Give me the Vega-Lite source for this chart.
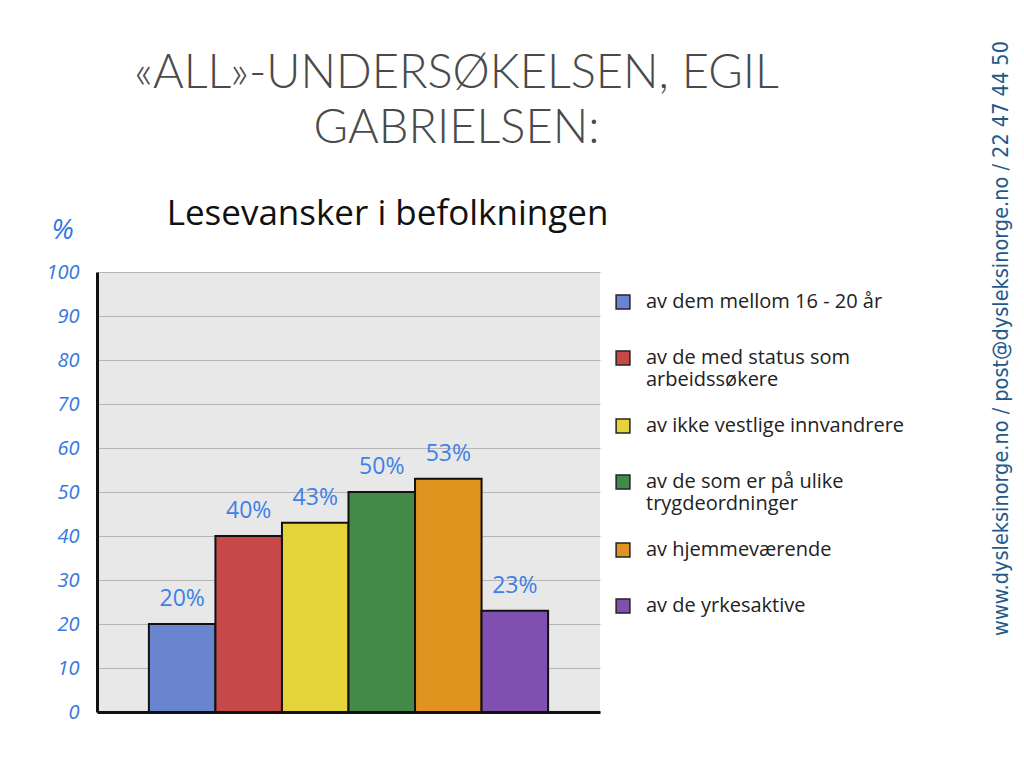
{
  "$schema": "https://vega.github.io/schema/vega-lite/v6.json",
  "width": 503,
  "height": 440,
  "autosize": {"type": "none"},
  "padding": {"left": 97, "top": 272, "right": 424, "bottom": 70},
  "background": "white",
  "title": {
    "text": ["«ALL»-UNDERSØKELSEN, EGIL", "GABRIELSEN:"],
    "anchor": "middle",
    "dx": 108,
    "dy": 112,
    "font": "Lato",
    "fontWeight": 300,
    "fontSize": 47,
    "color": "#4a4a4a",
    "lineHeight": 55,
    "offset": 0
  },
  "data": {
    "values": [
      {"gruppe": "av dem mellom 16 - 20 år", "prosent": 20, "etikett": "20%"},
      {"gruppe": "av de med status som\narbeidssøkere", "prosent": 40, "etikett": "40%"},
      {"gruppe": "av ikke vestlige innvandrere", "prosent": 43, "etikett": "43%"},
      {"gruppe": "av de som er på ulike\ntrygdeordninger", "prosent": 50, "etikett": "50%"},
      {"gruppe": "av hjemmeværende", "prosent": 53, "etikett": "53%"},
      {"gruppe": "av de yrkesaktive", "prosent": 23, "etikett": "23%"}
    ]
  },
  "layer": [
    {
      "mark": {"type": "bar", "stroke": "#111111", "strokeWidth": 2},
      "encoding": {
        "x": {
          "field": "gruppe",
          "type": "nominal",
          "sort": null,
          "scale": {"paddingInner": 0, "paddingOuter": 0.78},
          "axis": {
            "labels": false,
            "ticks": false,
            "grid": false,
            "domainColor": "#111111",
            "domainWidth": 3,
            "title": "Lesevansker i befolkningen",
            "titleX": 290,
            "titleY": -499,
            "titleAlign": "center",
            "titleBaseline": "middle",
            "titleFont": "Open Sans",
            "titleFontSize": 35,
            "titleFontWeight": "normal",
            "titleColor": "#111111"
          }
        },
        "y": {
          "field": "prosent",
          "type": "quantitative",
          "scale": {"domain": [0, 100]},
          "axis": {
            "tickCount": 10,
            "grid": true,
            "gridColor": "#B5B5B5",
            "gridWidth": 1,
            "ticks": false,
            "domainColor": "#111111",
            "domainWidth": 3,
            "labelColor": "#3577E0",
            "labelFontSize": 20,
            "labelFont": "Open Sans",
            "labelFontStyle": "italic",
            "labelPadding": 18,
            "title": "%",
            "titleAngle": 0,
            "titleX": -35,
            "titleY": -42,
            "titleAlign": "center",
            "titleBaseline": "middle",
            "titleColor": "#3577E0",
            "titleFont": "Open Sans",
            "titleFontSize": 28,
            "titleFontStyle": "italic",
            "titleFontWeight": "normal"
          }
        },
        "color": {
          "field": "gruppe",
          "type": "nominal",
          "sort": null,
          "scale": {
            "domain": [
              "av dem mellom 16 - 20 år",
              "av de med status som\narbeidssøkere",
              "av ikke vestlige innvandrere",
              "av de som er på ulike\ntrygdeordninger",
              "av hjemmeværende",
              "av de yrkesaktive"
            ],
            "range": ["#6A85CF", "#C64848", "#E4D43A", "#438A48", "#E0931E", "#8050B0"]
          },
          "legend": {
            "orient": "none",
            "legendX": 516,
            "legendY": 10,
            "title": null,
            "symbolType": "square",
            "symbolSize": 190,
            "symbolStrokeColor": "#222222",
            "symbolStrokeWidth": 1.5,
            "symbolOpacity": 1,
            "labelFontSize": 20,
            "labelFont": "Open Sans",
            "labelColor": "#222222",
            "labelExpr": "split(datum.label, '\\n')",
            "clipHeight": 40,
            "rowPadding": 16,
            "labelOffset": 13,
            "labelLimit": 320
          }
        }
      }
    },
    {
      "mark": {
        "type": "text",
        "baseline": "alphabetic",
        "dy": -18,
        "fontSize": 23,
        "font": "Open Sans",
        "color": "#3F80E6"
      },
      "encoding": {
        "x": {"field": "gruppe", "type": "nominal", "sort": null},
        "y": {
          "field": "prosent",
          "type": "quantitative",
          "axis": {
            "orient": "right",
            "labels": false,
            "ticks": false,
            "domain": false,
            "grid": false,
            "title": "www.dysleksinorge.no / post@dysleksinorge.no / 22 47 44 50",
            "titleAngle": 270,
            "titleX": 401,
            "titleY": 66,
            "titleAlign": "center",
            "titleBaseline": "middle",
            "titleFont": "DejaVu Sans Condensed, Liberation Sans, sans-serif",
            "titleFontSize": 21.5,
            "titleFontWeight": "normal",
            "titleColor": "#1F5A8A"
          }
        },
        "text": {"field": "etikett"}
      }
    }
  ],
  "resolve": {"axis": {"y": "independent"}},
  "config": {"view": {"fill": "#E8E8E8", "stroke": null}}
}
